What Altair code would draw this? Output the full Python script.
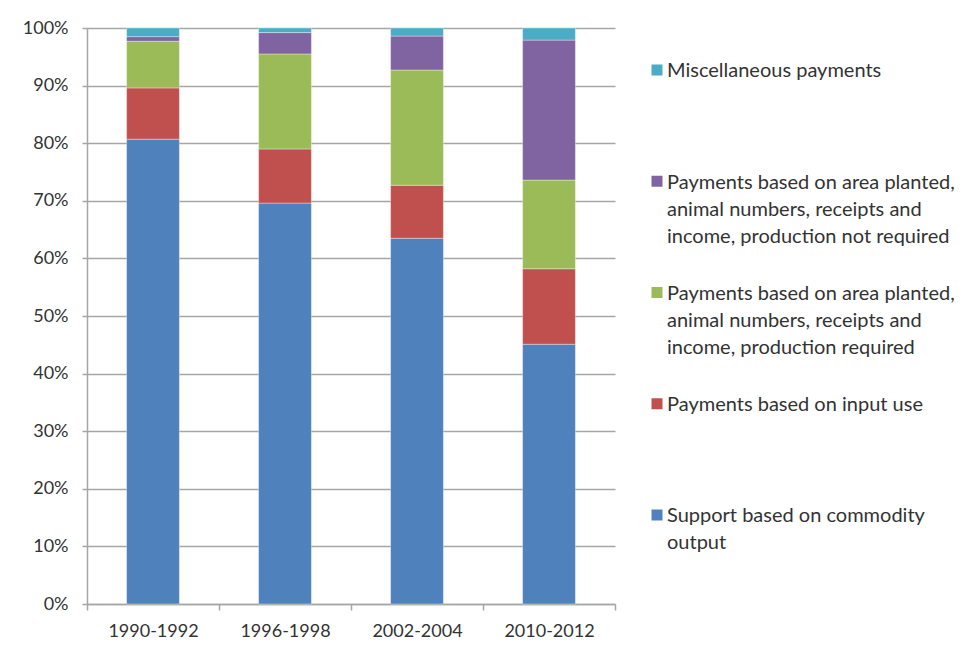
import altair as alt
import pandas as pd

periods = ["1990-1992", "1996-1998", "2002-2004", "2010-2012"]
categories = [
    "Support based on commodity output",
    "Payments based on input use",
    "Payments based on area planted, animal numbers, receipts and income, production required",
    "Payments based on area planted, animal numbers, receipts and income, production not required",
    "Miscellaneous payments",
]
legend_labels = [
    "Support based on commodity\noutput",
    "Payments based on input use",
    "Payments based on area planted,\nanimal numbers, receipts and\nincome, production required",
    "Payments based on area planted,\nanimal numbers, receipts and\nincome, production not required",
    "Miscellaneous payments",
]
colors = ["#4F81BD", "#C0504D", "#9BBB59", "#8064A2", "#4BACC6"]

commodity = [80.7, 69.6, 63.5, 45.1]
input_use = [8.9, 9.4, 9.2, 13.1]
prod_required = [8.1, 16.5, 20.0, 15.4]
prod_not_required = [0.8, 3.7, 5.9, 24.3]
misc = [1.5, 0.8, 1.4, 2.1]

series = [commodity, input_use, prod_required, prod_not_required, misc]

rows = []
for ci, (cat, vals) in enumerate(zip(categories, series)):
    for p, v in zip(periods, vals):
        rows.append({"period": p, "category": cat, "value": v, "order": ci})
df = pd.DataFrame(rows)

FONT = "Lato"
TXT = "#333333"
GRID = "#a6a6a6"

color_scale = alt.Scale(domain=categories, range=colors)

bars = alt.Chart(df).mark_bar(
    width=alt.RelativeBandSize(0.4), stroke="white", strokeWidth=0.6, strokeOpacity=0.6
).encode(
    x=alt.X("period:N", sort=periods, title=None,
            scale=alt.Scale(paddingInner=0, paddingOuter=0),
            axis=alt.Axis(labelAngle=0, labelFont=FONT, labelFontSize=18, labelColor=TXT,
                          labelPadding=12, domainColor=GRID, domainWidth=1.5,
                          tickColor=GRID, tickWidth=1.5, tickSize=6, tickBand="extent",
                          grid=False)),
    y=alt.Y("value:Q", stack="zero", title=None,
            scale=alt.Scale(domain=[0, 100], nice=False),
            axis=alt.Axis(values=list(range(0, 101, 10)), labelExpr="datum.value + '%'",
                          labelFont=FONT, labelFontSize=18, labelColor=TXT, labelPadding=14,
                          domainColor=GRID, domainWidth=1.5, tickColor=GRID, tickWidth=1.5,
                          tickSize=5, grid=True, gridColor=GRID, gridWidth=1.5)),
    color=alt.Color("category:N", scale=color_scale, legend=None),
    order=alt.Order("order:Q", sort="ascending"),
).properties(width=528, height=576)

legend_df = pd.DataFrame({
    "category": categories,
    "label": legend_labels,
    "k": list(range(len(categories))),
})

ly = alt.Y("k:Q", scale=alt.Scale(domain=[-0.8, 4.3775], nice=False, zero=False), axis=None)

leg_sq = alt.Chart(legend_df).mark_square(size=121, opacity=1, dy=2).encode(
    x=alt.value(11),
    y=ly,
    color=alt.Color("category:N", scale=color_scale, legend=None),
)
leg_txt = alt.Chart(legend_df).mark_text(
    align="left", baseline="line-top", lineBreak="\n", lineHeight=27,
    font=FONT, fontSize=20, color=TXT, dy=-11.5,
).encode(
    x=alt.value(21),
    y=ly,
    text="label:N",
)
legend = alt.layer(leg_sq, leg_txt).properties(width=310, height=576)

chart = alt.hconcat(bars, legend, spacing=30).properties(
    padding={"left": 14, "top": 11, "right": 0, "bottom": 5}
).configure(background="white").configure_view(stroke=None, strokeWidth=0)

chart.save("out.html", embed_options={"renderer": "svg", "actions": False})
